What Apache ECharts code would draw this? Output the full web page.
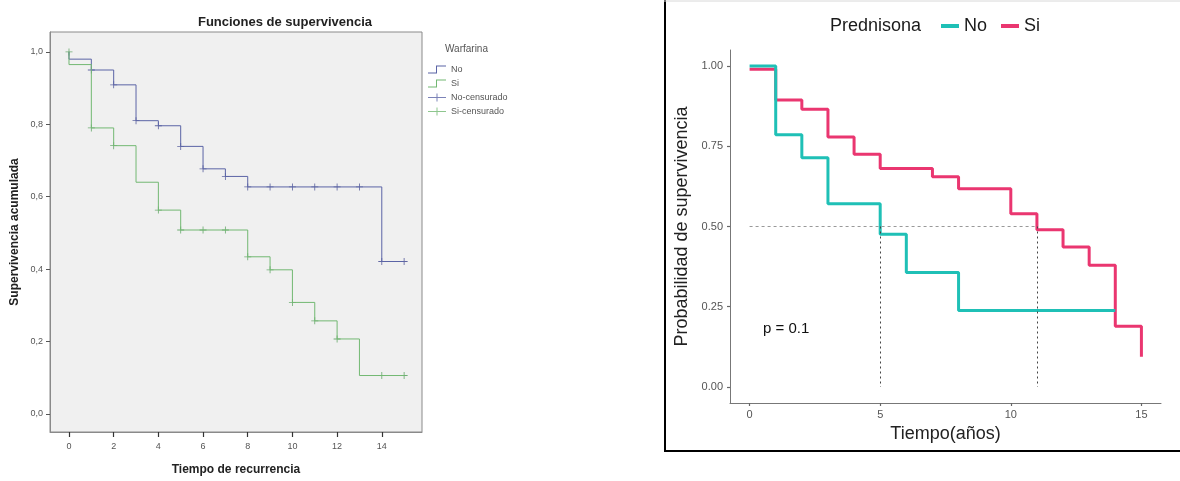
<!DOCTYPE html>
<html>
<head>
<meta charset="utf-8">
<script src="https://cdn.jsdelivr.net/npm/echarts@6/dist/echarts.min.js"></script>
<style>
html,body{margin:0;padding:0;background:#fff;}
#c{width:1180px;height:481px;}
</style>
</head>
<body>
<div id="c"></div>
<script>
// ---------- Left chart (Warfarina) ----------
const leftNoTime = [0, 0, 1, 2, 3, 4, 5, 6, 7, 8, 14, 15];
const leftNoSurv = [1.0, 0.98, 0.95, 0.909, 0.81, 0.796, 0.739, 0.677, 0.656, 0.627, 0.421, 0.421];
const leftSiTime = [0, 0, 1, 2, 3, 4, 5, 8, 9, 10, 11, 12, 13, 15];
const leftSiSurv = [1.0, 0.965, 0.79, 0.741, 0.64, 0.563, 0.508, 0.434, 0.398, 0.308, 0.257, 0.207, 0.106, 0.106];
const leftNoCensTime = [1, 2, 3, 4, 5, 6, 7, 8, 9, 10, 11, 12, 13, 14, 15];
const leftNoCensSurv = [0.95, 0.909, 0.81, 0.796, 0.739, 0.677, 0.656, 0.627, 0.627, 0.627, 0.627, 0.627, 0.627, 0.421, 0.421];
const leftSiCensTime = [0, 1, 2, 4, 5, 6, 7, 8, 9, 10, 11, 12, 14, 15];
const leftSiCensSurv = [1.0, 0.79, 0.741, 0.563, 0.508, 0.508, 0.508, 0.434, 0.398, 0.308, 0.257, 0.207, 0.106, 0.106];
const leftXTicks = [0, 2, 4, 6, 8, 10, 12, 14];
const leftYTicks = [0, 0.2, 0.4, 0.6, 0.8, 1.0];

// ---------- Right chart (Prednisona) ----------
const rightNoTime = [0, 1, 2, 3, 5, 6, 8, 14];
const rightNoSurv = [1.0, 0.786, 0.714, 0.571, 0.476, 0.357, 0.238, 0.238];
const rightSiTime = [0, 1, 2, 3, 4, 5, 7, 8, 10, 11, 12, 13, 14, 15];
const rightSiSurv = [0.99, 0.894, 0.865, 0.779, 0.725, 0.681, 0.655, 0.618, 0.54, 0.49, 0.436, 0.379, 0.189, 0.094];
const rightMedianTimes = [5, 11];
const rightMedianLevel = 0.5;
const rightXTicks = [0, 5, 10, 15];
const rightYTicks = [0, 0.25, 0.5, 0.75, 1.0];

const zip = (a, b) => a.map((v, i) => [v, b[i]]);

const BLUE = '#5b64a6';
const GREEN = '#72b872';
const TEAL = '#1fc0b6';
const PINK = '#ea3670';
const plusPath = 'path://M-0.12,-1h0.24v0.88h0.88v0.24h-0.88v0.88h-0.24v-0.88h-0.88v-0.24h0.88z';

const chart = echarts.init(document.getElementById('c'), null, {renderer: 'canvas'});

const option = {
  animation: false,
  backgroundColor: '#ffffff',
  textStyle: {fontFamily: 'Liberation Sans, Arial, sans-serif'},
  title: [
    {text: 'Funciones de supervivencia', left: 280, top: 11, textAlign: 'center',
     textStyle: {fontSize: 13, fontWeight: 'bold', color: '#222'}},
    {text: 'Warfarina', left: 440, top: 39, textStyle: {fontSize: 10, fontWeight: 'normal', color: '#555'}},
    {text: 'Prednisona', left: 825, top: 12, textStyle: {fontSize: 18, fontWeight: 'normal', color: '#1a1a1a'}},
    {text: 'p = 0.1', left: 758, top: 316, textStyle: {fontSize: 15, fontWeight: 'normal', color: '#111'}}
  ],
  legend: [
    {
      orient: 'vertical', left: 423, top: 60, itemWidth: 18, itemHeight: 8, itemGap: 5,
      textStyle: {fontSize: 9, color: '#555'},
      data: [
        {name: 'No', icon: 'path://M0,7h8v-7h10v1h-9v7h-9z', itemStyle: {color: BLUE}},
        {name: 'Si', icon: 'path://M0,7h8v-7h10v1h-9v7h-9z', itemStyle: {color: GREEN}},
        {name: 'No-censurado', icon: 'path://M0,3.5h18v1h-18z M8.5,0h1v8h-1z', itemStyle: {color: BLUE}},
        {name: 'Si-censurado', icon: 'path://M0,3.5h18v1h-18z M8.5,0h1v8h-1z', itemStyle: {color: GREEN}}
      ]
    },
    {
      orient: 'horizontal', left: 936, top: 12, itemWidth: 18, itemHeight: 4, itemGap: 14,
      textStyle: {fontSize: 18, color: '#1a1a1a'},
      formatter: n => n.replace('Pred ', ''),
      data: [
        {name: 'Pred No', icon: 'rect', itemStyle: {color: TEAL}},
        {name: 'Pred Si', icon: 'rect', itemStyle: {color: PINK}}
      ]
    }
  ],
  grid: [
    {left: 50, top: 32, width: 372, height: 401, show: true, backgroundColor: '#f0f0f0',
     borderColor: '#8a8a8a', borderWidth: 1, containLabel: false},
    {left: 730, top: 50, width: 431, height: 353, show: false, containLabel: false}
  ],
  xAxis: [
    {
      gridIndex: 0, type: 'value', min: -0.85, max: 15.8, position: 'bottom',
      axisLine: {show: true, onZero: false, lineStyle: {color: '#8a8a8a', width: 1}},
      axisTick: {show: true, inside: false, length: 5, lineStyle: {color: '#333', width: 1.2}, customValues: leftXTicks},
      axisLabel: {fontSize: 9, color: '#555', margin: 10, customValues: leftXTicks},
      splitLine: {show: false},
      name: 'Tiempo de recurrencia', nameLocation: 'middle', nameGap: 32,
      nameTextStyle: {fontSize: 12, fontWeight: 'bold', color: '#222'}
    },
    {
      gridIndex: 1, type: 'value', min: -0.75, max: 15.75,
      axisLine: {show: true, onZero: false, lineStyle: {color: '#777', width: 1}},
      axisTick: {show: true, length: 3, lineStyle: {color: '#666', width: 1.2}, customValues: rightXTicks},
      axisLabel: {fontSize: 11, color: '#555', margin: 6, customValues: rightXTicks},
      splitLine: {show: false},
      name: 'Tiempo(años)', nameLocation: 'middle', nameGap: 21,
      nameTextStyle: {fontSize: 18, color: '#222'}
    }
  ],
  yAxis: [
    {
      gridIndex: 0, type: 'value', min: -0.05, max: 1.055, position: 'left',
      axisLine: {show: true, onZero: false, lineStyle: {color: '#8a8a8a', width: 1}},
      axisTick: {show: true, length: 4, lineStyle: {color: '#555'}, customValues: leftYTicks},
      axisLabel: {fontSize: 9, color: '#555', margin: 7, customValues: leftYTicks,
                  formatter: v => v.toFixed(1).replace('.', ',')},
      splitLine: {show: false},
      name: 'Supervivencia acumulada', nameLocation: 'middle', nameGap: 29,
      nameTextStyle: {fontSize: 12, fontWeight: 'bold', color: '#222'}
    },
    {
      gridIndex: 1, type: 'value', min: -0.05, max: 1.05,
      axisLine: {show: true, onZero: false, lineStyle: {color: '#777', width: 1}},
      axisTick: {show: true, length: 3, lineStyle: {color: '#666', width: 1.2}, customValues: rightYTicks},
      axisLabel: {fontSize: 11, color: '#555', margin: 7, customValues: rightYTicks,
                  formatter: v => v.toFixed(2)},
      splitLine: {show: false},
      name: 'Probabilidad de supervivencia', nameLocation: 'middle', nameGap: 39,
      nameTextStyle: {fontSize: 18, color: '#222'}
    }
  ],
  series: [
    {name: 'No', type: 'line', xAxisIndex: 0, yAxisIndex: 0, step: 'end', showSymbol: false,
     data: zip(leftNoTime, leftNoSurv), lineStyle: {color: BLUE, width: 1}, itemStyle: {color: BLUE}},
    {name: 'Si', type: 'line', xAxisIndex: 0, yAxisIndex: 0, step: 'end', showSymbol: false,
     data: zip(leftSiTime, leftSiSurv), lineStyle: {color: GREEN, width: 1}, itemStyle: {color: GREEN}},
    {name: 'No-censurado', type: 'scatter', xAxisIndex: 0, yAxisIndex: 0, symbol: plusPath, symbolSize: 7,
     data: zip(leftNoCensTime, leftNoCensSurv), itemStyle: {color: '#3f4690'}},
    {name: 'Si-censurado', type: 'scatter', xAxisIndex: 0, yAxisIndex: 0, symbol: plusPath, symbolSize: 7,
     data: zip(leftSiCensTime, leftSiCensSurv), itemStyle: {color: '#4e9c52'}},
    {name: 'Pred Si', type: 'line', xAxisIndex: 1, yAxisIndex: 1, step: 'end', showSymbol: false,
     data: zip(rightSiTime, rightSiSurv), lineStyle: {color: PINK, width: 3}, itemStyle: {color: PINK}},
    {name: 'Pred No', type: 'line', xAxisIndex: 1, yAxisIndex: 1, step: 'end', showSymbol: false,
     data: zip(rightNoTime, rightNoSurv), lineStyle: {color: TEAL, width: 3}, itemStyle: {color: TEAL},
     markLine: {
       silent: true, symbol: 'none', label: {show: false},
       lineStyle: {color: '#444', type: [2, 3], width: 1},
       data: [
         [{coord: [0, rightMedianLevel], lineStyle: {color: '#999', type: [3, 3]}},
          {coord: [rightMedianTimes[1], rightMedianLevel]}],
         ...rightMedianTimes.map(t => [{coord: [t, rightMedianLevel]}, {coord: [t, 0]}])
       ]
     }}
  ],
  graphic: [
    {type: 'line', shape: {x1: 665, y1: 0, x2: 665, y2: 451}, style: {stroke: '#000', lineWidth: 2}},
    {type: 'line', shape: {x1: 664, y1: 451, x2: 1180, y2: 451}, style: {stroke: '#000', lineWidth: 2}},
    {type: 'line', shape: {x1: 664, y1: 1, x2: 1180, y2: 1}, style: {stroke: '#d8d8d8', lineWidth: 1}}
  ]
};
chart.setOption(option);
</script>
</body>
</html>
